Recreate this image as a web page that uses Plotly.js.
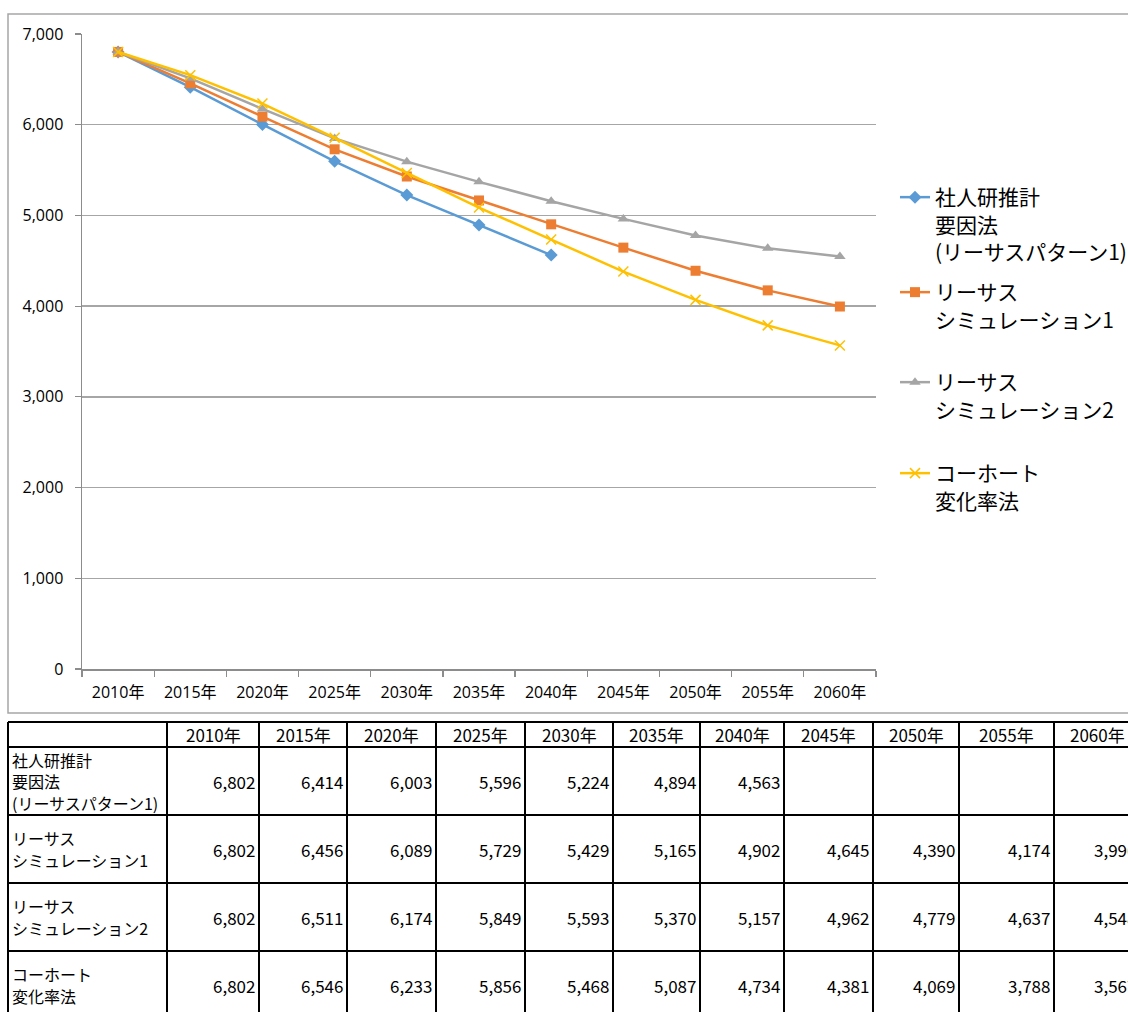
<!DOCTYPE html>
<html><head><meta charset="utf-8">
<script src="https://cdn.plot.ly/plotly-3.0.1.min.js"></script>
<style>html,body{margin:0;padding:0;overflow:hidden;background:#fff;} #chart{width:1150px;height:1012px;}</style>
</head><body><div id="chart"></div>
<script>
// ---- data ----
const years = ['2010年','2015年','2020年','2025年','2030年','2035年','2040年','2045年','2050年','2055年','2060年'];
const legendNames = ['社人研推計<br>要因法<br>(リーサスパターン1)','リーサス<br>シミュレーション1','リーサス<br>シミュレーション2','コーホート<br>変化率法'];
const tableLabels = [['社人研推計','要因法','(リーサスパターン1)'],['リーサス','シミュレーション1'],['リーサス','シミュレーション2'],['コーホート','変化率法']];
const shajinken = [6802,6414,6003,5596,5224,4894,4563,null,null,null,null];
const resas1    = [6802,6456,6089,5729,5429,5165,4902,4645,4390,4174,3996];
const resas2    = [6802,6511,6174,5849,5593,5370,5157,4962,4779,4637,4548];
const cohort    = [6802,6546,6233,5856,5468,5087,4734,4381,4069,3788,3567];

// ---- layout helpers (pixel -> paper) ----
const W = 1150, H = 1012;
const px = x => x / W;
const py = y => 1 - y / H;

const series = [shajinken, resas1, resas2, cohort];
const colors = ['#5B9BD5','#ED7D31','#A5A5A5','#FFC000'];
const symbols = ['diamond','square','triangle-up','x-thin'];
const msizes = [10,10,10,10];
const legendIds = ['legend','legend2','legend3','legend4'];
const legendTops = [177, 272, 362, 453];

const traces = series.map((s,i) => ({
  type:'scatter', mode:'lines+markers', x: years, y: s, name: legendNames[i],
  legend: legendIds[i],
  line:{color:colors[i], width:2.5},
  marker:{symbol:symbols[i], size:msizes[i], color:colors[i], line:{color:colors[i], width: i===3?1.5:0}},
  connectgaps:false, hoverinfo:'skip'
}));

const fontJP = '"Noto Sans CJK JP", "Noto Sans", sans-serif';
const fontAx = '"Open Sans", "Noto Sans CJK JP", sans-serif';

const layout = {
  width: W, height: H,
  margin:{l:0,r:0,t:0,b:0},
  paper_bgcolor:'#fff', plot_bgcolor:'#fff',
  showlegend:true,
  xaxis:{
    type:'category', domain:[px(82), px(876)], range:[-0.5, 10.5],
    showline:true, linecolor:'#8c8c8c', linewidth:1.5,
    ticks:'outside', tickson:'boundaries', ticklen:6, tickcolor:'#8c8c8c', tickwidth:1.2,
    showgrid:false, zeroline:false, ticklabelstandoff:8,
    tickfont:{family:fontAx, size:16, color:'#000'}, fixedrange:true
  },
  yaxis:{
    domain:[py(669), py(34)], range:[0,7000], dtick:1000, tickformat:',d',
    showline:true, linecolor:'#8c8c8c', linewidth:1.5,
    ticks:'outside', ticklen:6, tickcolor:'#8c8c8c', tickwidth:1.2,
    showgrid:true, gridcolor:'#a6a6a6', gridwidth:1.3, zeroline:false,
    ticklabelstandoff:8,
    tickfont:{family:fontAx, size:16, color:'#000'}, fixedrange:true
  },
  shapes:[], annotations:[]
};

legendIds.forEach((id,i) => {
  layout[id] = {
    x: px(895), y: py(legendTops[i]), xanchor:'left', yanchor:'top',
    bgcolor:'rgba(0,0,0,0)', borderwidth:0, valign:'top',
    font:{family:fontJP, size:21, color:'#000'}, itemclick:false, itemdoubleclick:false
  };
});

// outer chart frame
layout.shapes.push({type:'rect', xref:'paper', yref:'paper', x0:px(8), x1:px(1148), y0:py(14), y1:py(713),
  line:{color:'#a6a6a6', width:1.5}, fillcolor:'rgba(0,0,0,0)', layer:'below'});

// ---- table ----
const colEdges = [8,167,259,347,436,525,613,700,784,873,959,1054,1140];
const rowEdges = [722,747,815,883,951,1019];
const lineGap = 21.5;
const tFont = {family:fontJP, size:17, color:'#000'};
const lFont = {family:fontJP, size:16, color:'#000'};
colEdges.forEach(x => layout.shapes.push({type:'line', xref:'paper', yref:'paper',
  x0:px(x), x1:px(x), y0:py(rowEdges[0]), y1:py(rowEdges[rowEdges.length-1]), line:{color:'#000', width:2}}));
rowEdges.forEach(y => layout.shapes.push({type:'line', xref:'paper', yref:'paper',
  x0:px(colEdges[0]), x1:px(colEdges[colEdges.length-1]), y0:py(y), y1:py(y), line:{color:'#000', width:2}}));

years.forEach((yr,j) => {
  layout.annotations.push({xref:'paper', yref:'paper', x:px((colEdges[j+1]+colEdges[j+2])/2), y:py((rowEdges[0]+rowEdges[1])/2),
    text:yr, showarrow:false, xanchor:'center', yanchor:'middle', font:tFont});
});
series.forEach((s,i) => {
  const yMid = (rowEdges[i+1]+rowEdges[i+2])/2;
  const lines = tableLabels[i];
  lines.forEach((t,k) => {
    const yl = yMid + (k - (lines.length-1)/2) * lineGap;
    layout.annotations.push({xref:'paper', yref:'paper', x:px(colEdges[0]+2), y:py(yl), text:t,
      showarrow:false, xanchor:'left', yanchor:'middle', align:'left', font:lFont});
  });
  s.forEach((v,j) => {
    if (v === null) return;
    layout.annotations.push({xref:'paper', yref:'paper', x:px(colEdges[j+2]-2), y:py(yMid),
      text:v.toLocaleString('en-US'), showarrow:false, xanchor:'right', yanchor:'middle', font:tFont});
  });
});

Plotly.newPlot('chart', traces, layout, {staticPlot:true, displayModeBar:false});
</script></body></html>
